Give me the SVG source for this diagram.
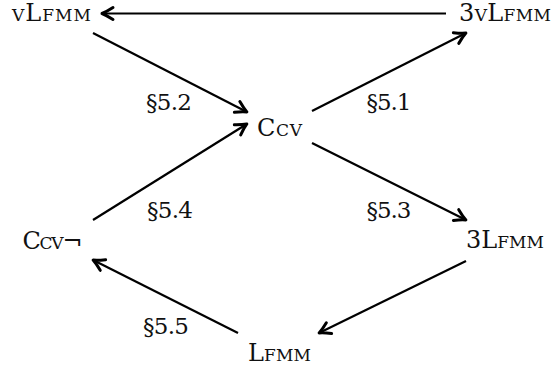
<svg xmlns="http://www.w3.org/2000/svg" width="552" height="368" viewBox="0 0 552 368">
<style>
  text { font-family: "DejaVu Serif", "Liberation Serif", serif; font-size: 23px; fill: #111; text-anchor: middle; }
  .node text { font-size: 24px; font-variant: small-caps; }
  .edge { stroke: #000; stroke-width: 2.2; fill: none; marker-end: url(#arr); }
</style>
<defs>
  <marker id="arr" markerUnits="userSpaceOnUse" markerWidth="18" markerHeight="18" viewBox="-13 -9 18 18" refX="0" refY="0" orient="auto">
    <path d="M-10,-6 Q-3.5,-1.8 1,0 Q-3.5,1.8 -10,6" fill="none" stroke="#000" stroke-width="3" stroke-linecap="round" stroke-linejoin="round"/>
  </marker>
</defs>
<rect width="552" height="368" fill="#fff"/>
<g id="connectors">
  <line class="edge" x1="446" y1="13.5" x2="103" y2="13.5"/>
  <line class="edge" x1="93" y1="33" x2="246" y2="111.5"/>
  <line class="edge" x1="312" y1="111" x2="465" y2="33.5"/>
  <line class="edge" x1="312" y1="143" x2="465" y2="219.5"/>
  <line class="edge" x1="93" y1="220" x2="246" y2="124.5"/>
  <line class="edge" x1="238" y1="333" x2="94" y2="260.5"/>
  <line class="edge" x1="466" y1="261" x2="320" y2="332.5"/>
  <text x="169" y="110" textLength="46">§5.2</text>
  <text x="389" y="110" textLength="45">§5.1</text>
  <text x="389" y="218" textLength="45">§5.3</text>
  <text x="170" y="218" textLength="46">§5.4</text>
  <text x="166" y="334" textLength="46">§5.5</text>
</g>
<g id="vLfmm" class="node"><text x="51.5" y="21" textLength="79">vLfmm</text></g>
<g id="3vLfmm" class="node"><text x="505" y="21" textLength="92">3vLfmm</text></g>
<g id="Ccv" class="node"><text x="279.5" y="136" textLength="45">Ccv</text></g>
<g id="Ccvneg" class="node"><text x="52.5" y="249" textLength="60">Ccv¬</text></g>
<g id="3Lfmm" class="node"><text x="505" y="248" textLength="78">3Lfmm</text></g>
<g id="Lfmm" class="node"><text x="279.5" y="361" textLength="63">Lfmm</text></g>
</svg>
